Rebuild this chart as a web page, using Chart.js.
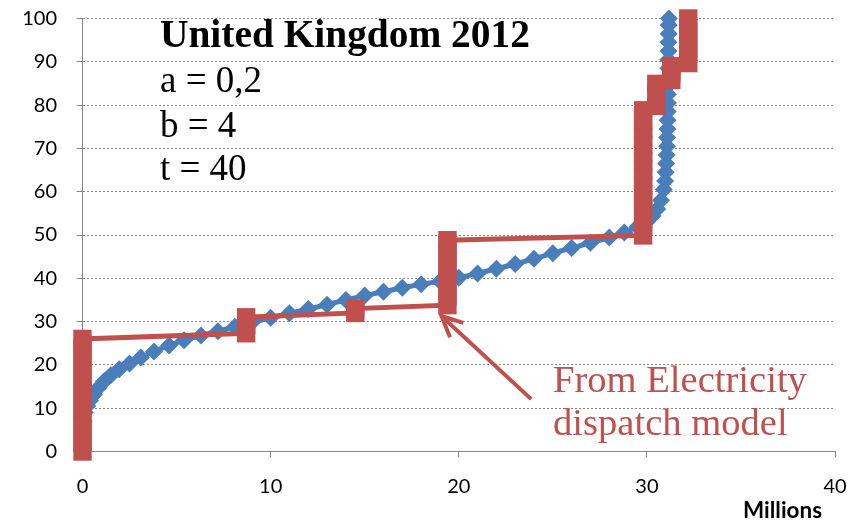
<!DOCTYPE html>
<html><head><meta charset="utf-8">
<script src="https://cdn.jsdelivr.net/npm/chart.js@4.4.0/dist/chart.umd.min.js"></script>
<style>html,body{margin:0;padding:0;background:#fff;overflow:hidden}</style>
</head><body>
<canvas id="c" width="863" height="521"></canvas>
<script>
// ---- data ----
const blueX = [0, 0.02, 0.03, 0.06, 0.12, 0.25, 0.4, 0.6, 0.85, 1.15, 1.5, 1.95, 2.5, 3.1, 3.8, 4.6, 5.4, 6.3, 7.2, 8.1, 9.0,
  10, 11, 12, 13, 14, 15, 16, 17, 18, 19, 20, 21, 22, 23, 24, 25, 26, 27, 28, 28.8, 29.5, 30.0, 30.3, 30.55, 30.75, 30.9,
  30.97, 31.0, 31.03, 31.05, 31.07, 31.08, 31.09, 31.1, 31.11, 31.12, 31.12, 31.13, 31.13, 31.14, 31.14, 31.15, 31.15, 31.16, 31.16, 31.17];
const blueY = [0, 2, 4, 7, 9, 10.5, 11.8, 13.1, 14.7, 16.2, 17.6, 19, 20.3, 21.7, 23.1, 24.5, 25.7, 26.8, 27.8, 28.8, 29.8,
  30.9, 31.9, 32.9, 33.9, 35, 36, 36.9, 37.8, 38.6, 39.3, 40.1, 41.1, 42.2, 43.3, 44.5, 45.8, 47, 48.2, 49.4, 50.6, 51.9, 53.2, 54.4, 56, 58, 60.5,
  62.5, 64.5, 66.5, 68.5, 70.5, 72.5, 74.5, 76.5, 78.5, 80.5, 82.5, 84.5, 86.5, 88.5, 90.5, 92.5, 94.5, 96.5, 98.5, 100];

const redX = [0, 0, 0, 0, 0, 0, 0, 0, 0, 0, 0, 0, 0, 0,
  8.7, 8.7, 8.7,
  14.5, 14.5,
  19.4, 19.4, 19.4, 19.4, 19.4, 19.4, 19.4, 19.4, 19.4,
  29.8, 29.8, 29.8, 29.8, 29.8, 29.8, 29.8, 29.8, 29.8, 29.8, 29.8, 29.8, 29.8, 29.8, 29.8, 29.8,
  30.5, 30.5, 30.5,
  31.3, 31.3, 31.3,
  32.2, 32.2, 32.2, 32.2, 32.2, 32.2];
const redY = [0, 2, 4, 6, 8, 10, 12, 14, 16, 18, 20, 22, 24, 26,
  27.3, 29.2, 31,
  32.0, 33.0,
  33.8, 35.8, 37.8, 39.8, 41.8, 43.8, 45.8, 47.8, 48.8,
  49.9, 51.8, 53.7, 55.6, 57.5, 59.4, 61.3, 63.2, 65.1, 67, 68.9, 70.8, 72.7, 74.6, 76.5, 78.8,
  79.8, 82.3, 84.9,
  85.8, 87.4, 89,
  89.7, 91.8, 93.9, 96, 98, 100];

const xTicks = [0, 10, 20, 30, 40];
const yTicks = [0, 10, 20, 30, 40, 50, 60, 70, 80, 90, 100];
const xAxisTitle = 'Millions';
const infoTitle = 'United Kingdom 2012';
const infoLines = ['a = 0,2', 'b = 4', 't = 40'];
const noteLines = ['From Electricity', 'dispatch model'];
const arrowFrom = {x: 23.85, y: 12.1};
const arrowTo = {x: 19.08, y: 31.3};

// ---- styles ----
const BLUE = '#4A7EBB';
const RED = '#C0504D';
const GRAY = '#868686';
const SERIF = '"Liberation Serif"';
const SANS = 'Lato';

function zip(xs, ys) { return xs.map((x, i) => ({x: x, y: ys[i]})); }

function fitSize(ctx, text, weight, family, targetW) {
  ctx.font = weight + ' 100px ' + family;
  return 100 * targetW / ctx.measureText(text).width;
}

const annotations = {
  id: 'annotations',
  afterDatasetsDraw(chart) {
    const ctx = chart.ctx;
    const xs = chart.scales.x, ys = chart.scales.y;
    const x1 = xs.getPixelForValue(arrowFrom.x), y1 = ys.getPixelForValue(arrowFrom.y);
    const x2 = xs.getPixelForValue(arrowTo.x), y2 = ys.getPixelForValue(arrowTo.y);
    const ang = Math.atan2(y1 - y2, x1 - x2);
    ctx.save();
    ctx.strokeStyle = RED; ctx.lineWidth = 4; ctx.lineCap = 'butt'; ctx.lineJoin = 'miter';
    ctx.beginPath(); ctx.moveTo(x1, y1); ctx.lineTo(x2, y2); ctx.stroke();
    const L = 23, spread = 0.44;
    ctx.beginPath();
    ctx.moveTo(x2 + L * Math.cos(ang - spread), y2 + L * Math.sin(ang - spread));
    ctx.lineTo(x2, y2);
    ctx.lineTo(x2 + L * Math.cos(ang + spread), y2 + L * Math.sin(ang + spread));
    ctx.stroke();
    ctx.restore();
  },
  afterDraw(chart) {
    const ctx = chart.ctx;
    ctx.save();
    ctx.textAlign = 'left'; ctx.textBaseline = 'alphabetic';
    ctx.fillStyle = '#000';
    let s = fitSize(ctx, infoTitle, 'bold', SERIF, 370);
    ctx.font = 'bold ' + s + 'px ' + SERIF;
    ctx.fillText(infoTitle, 160, 47);
    s = fitSize(ctx, infoLines[0], 'normal', SERIF, 102);
    ctx.font = s + 'px ' + SERIF;
    const bases = [92, 137, 180];
    infoLines.forEach((t, i) => ctx.fillText(t, 160, bases[i]));
    ctx.fillStyle = RED;
    s = fitSize(ctx, noteLines[0], 'normal', SERIF, 254);
    ctx.font = s + 'px ' + SERIF;
    ctx.fillText(noteLines[0], 553, 392);
    ctx.fillText(noteLines[1], 553, 435);
    ctx.fillStyle = '#000';
    s = fitSize(ctx, xAxisTitle, 'bold', SANS, 79);
    ctx.font = 'bold ' + s + 'px ' + SANS;
    ctx.textAlign = 'right';
    ctx.fillText(xAxisTitle, 822, 518);
    ctx.restore();
  }
};

new Chart(document.getElementById('c'), {
  type: 'scatter',
  data: {
    datasets: [
      {
        label: 'Dispatch model',
        data: zip(redX, redY),
        showLine: true,
        borderColor: RED,
        backgroundColor: RED,
        borderWidth: 5,
        pointStyle: 'rect',
        pointRadius: 13,
        pointBorderWidth: 0,
        pointBackgroundColor: RED,
        order: 1,
        clip: false
      },
      {
        label: 'Supply curve',
        data: zip(blueX, blueY),
        showLine: true,
        borderColor: BLUE,
        backgroundColor: BLUE,
        borderWidth: 5,
        pointStyle: 'rectRot',
        pointRadius: 9,
        pointBorderWidth: 0,
        pointBackgroundColor: BLUE,
        order: 2,
        clip: false
      }
    ]
  },
  options: {
    responsive: false,
    animation: false,
    events: [],
    layout: {padding: {left: 20, top: 18.5, right: 28, bottom: 19.5}},
    plugins: {legend: {display: false}, tooltip: {enabled: false}},
    scales: {
      x: {
        type: 'linear', min: 0, max: 40,
        afterBuildTicks: s => { s.ticks = xTicks.map(v => ({value: v})); },
        afterFit: s => { s.height = 50; s.paddingLeft = 0; s.paddingRight = 0; },
        grid: {drawOnChartArea: false, drawTicks: true, tickLength: 6, color: GRAY, tickColor: GRAY},
        border: {display: true, color: GRAY, width: 1},
        ticks: {color: '#000', padding: 17, font: {family: SANS, size: 20}}
      },
      y: {
        type: 'linear', min: 0, max: 100,
        afterBuildTicks: s => { s.ticks = yTicks.map(v => ({value: v})); },
        afterFit: s => { s.width = 62.5; s.paddingTop = 0; s.paddingBottom = 0; },
        grid: {drawOnChartArea: true, drawTicks: true, tickLength: 6, color: GRAY, tickColor: GRAY, lineWidth: 1},
        border: {display: true, color: GRAY, width: 1, dash: [2, 2]},
        ticks: {color: '#000', padding: 19.5, font: {family: SANS, size: 20}}
      }
    }
  },
  plugins: [annotations]
});
</script>
</body></html>
